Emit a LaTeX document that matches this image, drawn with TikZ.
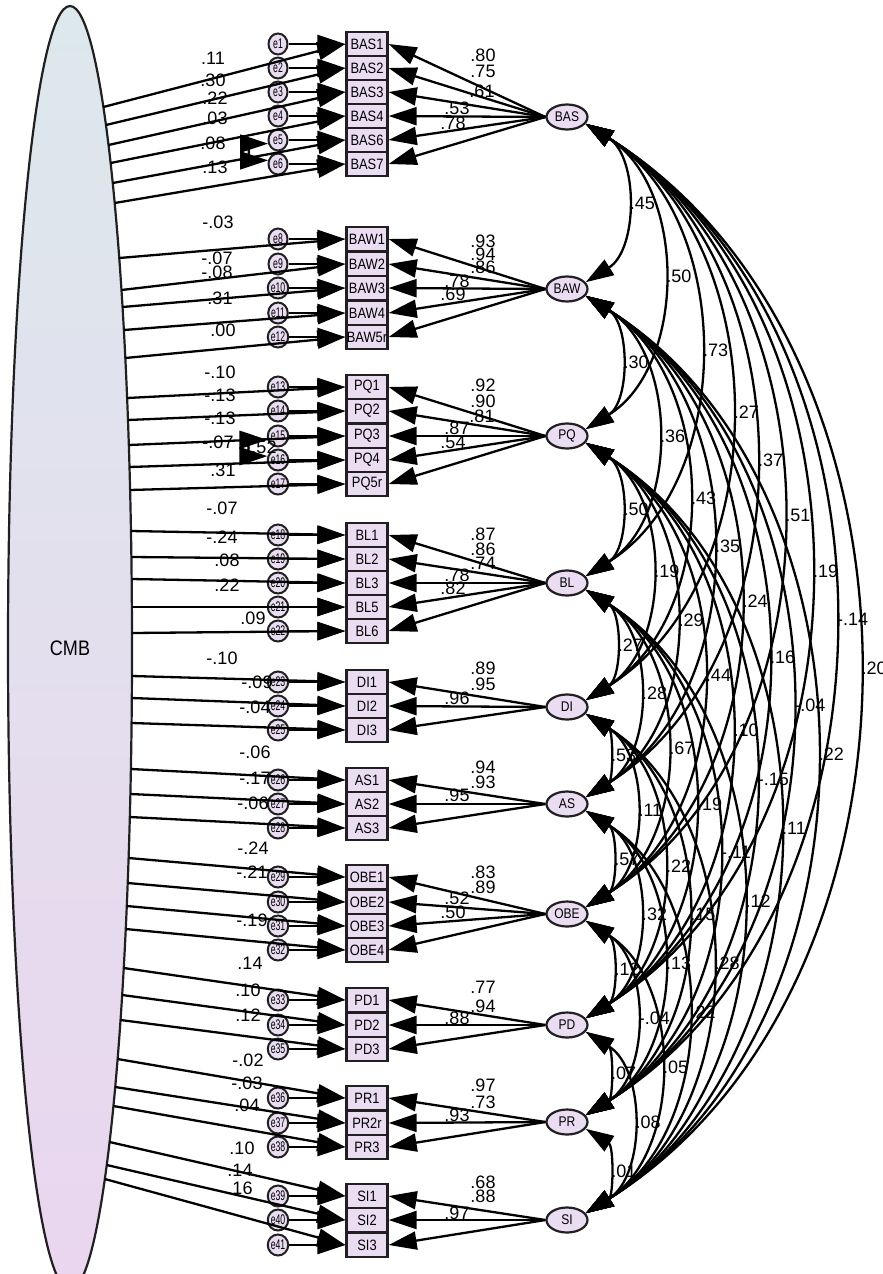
\documentclass[tikz,border=0pt]{standalone}
\usepackage{fontspec}
\setmainfont{Liberation Sans}
\newfontfamily\narrowsans{Liberation Sans}[FakeStretch=0.86]
\newfontfamily\tightsans{Liberation Sans}[FakeStretch=0.62]
\usetikzlibrary{arrows.meta,shapes.geometric}
\definecolor{boxfill}{HTML}{EADDF1}
\definecolor{edgecol}{HTML}{202020}
\definecolor{cmbtop}{HTML}{DCE8EC}
\definecolor{cmbbot}{HTML}{EAD6EF}
\tikzset{
  bigtip/.tip={Triangle[length=28pt,width=18pt]},
  item/.style={draw=edgecol, line width=2.3pt, fill=boxfill, minimum width=41pt,
    minimum height=24pt, inner sep=0pt, font=\narrowsans\fontsize{15}{15}\selectfont},
  latent/.style={ellipse, draw=edgecol, line width=2.2pt, fill=boxfill, minimum width=41pt,
    minimum height=25pt, inner sep=0pt, font=\narrowsans\fontsize{14}{14}\selectfont},
  err/.style={ellipse, draw=edgecol, line width=2pt, fill=boxfill, minimum width=19pt,
    minimum height=21pt, inner sep=0pt, font=\tightsans\fontsize{14}{14}\selectfont},
  cmbnode/.style={ellipse, draw=edgecol, line width=2.2pt, top color=cmbtop, bottom color=cmbbot,
    minimum width=124pt, minimum height=1284pt, inner sep=0pt,
    font=\narrowsans\fontsize{21}{21}\selectfont},
  ldpath/.style={line width=2.3pt, -{bigtip}},
  cov/.style={line width=2.3pt, {bigtip}-{bigtip}},
  num/.style={font=\fontsize{18}{18}\selectfont, inner sep=0pt},
}
% item / y / error term / factor index / offset of the method-factor path start
\def\itemlist{BAS1/44/1/1/63, BAS2/68/2/1/57, BAS3/92/3/1/53, BAS4/116/4/1/47, BAS6/140/5/1/43, BAS7/164/6/1/39,
  BAW1/239/8/2/19, BAW2/264/9/2/26, BAW3/288/10/2/19, BAW4/313/11/2/17, BAW5r/337/12/2/21,
  PQ1/387/13/3/11, PQ2/411/14/3/9, PQ3/436/15/3/9, PQ4/460/16/3/7, PQ5r/484/17/3/6,
  BL1/535/18/4/-4, BL2/559/19/4/-2, BL3/583/20/4/-4, BL5/607/21/4/0, BL6/631/22/4/2,
  DI1/682/23/5/-6, DI2/706/24/5/-8, DI3/730/25/5/-7,
  AS1/780/26/6/-11, AS2/804/27/6/-10, AS3/828/28/6/-11,
  OBE1/877/29/7/-19, OBE2/902/30/7/-19, OBE3/926/31/7/-20, OBE4/950/32/7/-21,
  PD1/1000/33/8/-32, PD2/1025/34/8/-30, PD3/1049/35/8/-29,
  PR1/1098/36/9/-39, PR2r/1123/37/9/-36, PR3/1147/38/9/-41,
  SI1/1196/39/10/-54, SI2/1220/40/10/-55, SI3/1245/41/10/-66}
\def\fylist{{0,117,289,436,583,707,804,914,1025,1122,1220}}
\begin{document}
\begin{tikzpicture}[x=1pt,y=-1pt]
\useasboundingbox (0,0) rectangle (883,1274);

% common method factor
\node[cmbnode] (CMB) at (70,648) {CMB};

% substantive factors
\foreach \fn/\fy/\k in {BAS/117/1, BAW/289/2, PQ/436/3, BL/583/4, DI/707/5,
  AS/804/6, OBE/914/7, PD/1025/8, PR/1122/9, SI/1220/10}
  \node[latent] (F\k) at (567,\fy) {\fn};

% indicators and their error terms
\foreach \nm/\yy/\en/\k/\off in \itemlist {
  \node[item] (\nm) at (367,\yy) {\nm};
  \node[err] (e\en) at (278,\yy) {e\en};
}

% standardized loadings on the substantive factors
\foreach \t/\x/\y [count=\i] in {
  .80/483/55, .75/483/71, .61/482/91, .53/457/108, .78/453/123,
  .93/483/241, .94/483/254, .86/483/267, .78/457/281, .69/453/294,
  .92/483/385, .90/483/401, .81/482/416, .87/457/428, .54/453/442,
  .87/483/534, .86/483/549, .74/483/563, .78/457/575, .82/453/588,
  .89/483/668, .95/483/684, .96/457/698,
  .94/483/767, .93/483/782, .95/457/795,
  .83/483/872, .89/483/887, .52/457/898, .50/453/912,
  .77/483/987, .94/483/1006, .88/457/1018,
  .97/483/1085, .73/483/1102, .93/457/1115,
  .68/483/1182, .88/483/1196, .97/457/1213}
  \node[num] (ld\i) at (\x,\y) {\t};

% loadings on the common method factor
\foreach \t/\x/\y [count=\i] in {
  .11/213/58, .30/213/80, .22/215/98, .03/215/118, .08/213/143, .13/215/167,
  -.03/218/222, -.07/217/258, -.08/217/272, .31/220/298, .00/223/330,
  -.10/220/372, -.13/220/395, -.13/220/418, -.07/218/442, .31/223/470,
  -.07/222/508, -.24/222/537, .08/227/560, .22/227/585, .09/253/618,
  -.10/222/658, -.09/257/682, -.04/255/707,
  -.06/255/752, -.17/255/778, -.06/253/803,
  -.24/253/848, -.21/252/872, -.19/252/920,
  .14/250/963, .10/248/990, .12/248/1015,
  -.02/248/1060, -.03/247/1083, .04/247/1105,
  .10/242/1148, .14/240/1170, .16/240/1188}
  \node[num] (cm\i) at (\x,\y) {\t};

% factor correlations: labels
\def\corrlist{1/2/.45, 1/3/.50, 1/4/.73, 1/5/.27, 1/6/.37, 1/7/.51, 1/8/.19, 1/9/-.14, 1/10/.20,
  2/3/.30, 2/4/.36, 2/5/.43, 2/6/.35, 2/7/.24, 2/8/.16, 2/9/-.04, 2/10/.22,
  3/4/.50, 3/5/.19, 3/6/.29, 3/7/.44, 3/8/.10, 3/9/-.15, 3/10/.11,
  4/5/.27, 4/6/.28, 4/7/.67, 4/8/.19, 4/9/-.11, 4/10/.12,
  5/6/.53, 5/7/.11, 5/8/.22, 5/9/.15, 5/10/.28,
  6/7/.57, 6/8/.32, 6/9/.13, 6/10/.22,
  7/8/.12, 7/9/-.04, 7/10/.05,
  8/9/.07, 8/10/.08,
  9/10/.01}
\foreach \a/\b/\r in \corrlist {
  \pgfmathsetmacro\ya{\fylist[\a]}
  \pgfmathsetmacro\yb{\fylist[\b]}
  \pgfmathsetmacro\ax{590+0.249*(\yb-\ya-13)}
  \pgfmathsetmacro\my{(\ya+\yb)/2}
  \node[num, anchor=west] (r\a-\b) at (\ax,\my) {\r};
}

% paths: method factor, error terms, substantive factors
\foreach \nm/\yy/\en/\k/\off in \itemlist {
  \pgfmathsetmacro\ys{\yy+\off}
  \pgfmathsetmacro\xs{70+62*sqrt(1-((\ys-648)/642)^2)}
  \coordinate (s\nm) at (\xs,\ys);
  \draw[ldpath] (s\nm) -- (\nm.west);
  \draw[ldpath] (e\en) -- (\nm.west);
  \draw[ldpath] (F\k.west) -- (\nm.east);
}

% factor correlations: arcs bulging to the right
\foreach \a/\b/\r in \corrlist {
  \pgfmathsetmacro\ya{\fylist[\a]}
  \pgfmathsetmacro\yb{\fylist[\b]}
  \pgfmathsetmacro\cc{\yb-\ya-13}
  \pgfmathsetmacro\cx{585.5+0.332*\cc}
  \pgfmathsetmacro\cya{\ya+6.8+0.2075*\cc}
  \pgfmathsetmacro\cyb{\yb-6.8-0.2075*\cc}
  \draw[cov] (F\a.-20) .. controls (\cx,\cya) and (\cx,\cyb) .. (F\b.20);
}

% correlated error terms
\draw[cov] (e5.200) to[out=180, in=180, looseness=2.5] (e6.160);
\draw[cov] (e15.200) to[out=180, in=180, looseness=2.5] (e16.160);
\node[num] (ce1) at (264,447) {.52};
\end{tikzpicture}
\end{document}
